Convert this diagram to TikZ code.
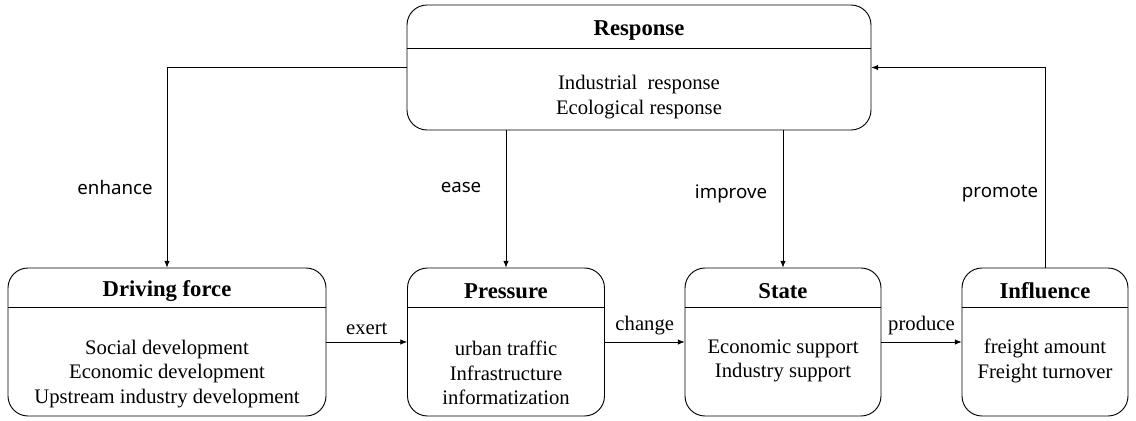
\documentclass[tikz,border=0pt]{standalone}
\usepackage{fontspec}
\setmainfont{Liberation Serif}
\newfontfamily\linkfont{Noto Sans}
\usetikzlibrary{arrows.meta}
\tikzset{
    stagebox/.style={draw, rounded corners=15pt, inner sep=0pt, line width=0.7pt, minimum height=#1},
    stagetitle/.style={font=\fontsize{17}{20}\selectfont\bfseries},
    stagebody/.style={align=center, font=\fontsize{15.5}{18.5}\selectfont},
    link/.style={-{Latex[length=5pt,width=4pt]}, line width=0.5pt},
    linklabel/.style={font=\linkfont\fontsize{14}{16}\selectfont},
    arclabel/.style={font=\fontsize{15.5}{18}\selectfont, inner sep=5pt}
}
\begin{document}
\begin{tikzpicture}[x=0.75pt, y=-0.75pt]
    \useasboundingbox (0,0) rectangle (1136,421);
    % boxes
    \node [stagebox=93.75pt, minimum width=348pt] (resp) at (639,67.5) {};
    \node [stagebox=111pt, minimum width=238.5pt] (drive) at (167,342) {};
    \node [stagebox=111pt, minimum width=147.75pt] (press) at (506,342) {};
    \node [stagebox=111pt, minimum width=147pt] (state) at (783,342) {};
    \node [stagebox=111pt, minimum width=124.5pt] (infl) at (1045,342) {};
    % title rules
    \draw [line width=0.5pt] (resp.west |- 0,48) -- (resp.east |- 0,48);
    \foreach \b in {drive,press,state,infl}
        \draw [line width=0.5pt] (\b.west |- 0,307) -- (\b.east |- 0,307);
    % titles
    \node [stagetitle] (resptitle) at (639,30) {Response};
    \node [stagetitle] (drivetitle) at (167,291) {Driving force};
    \node [stagetitle] (presstitle) at (506,291) {Pressure};
    \node [stagetitle] (statetitle) at (783,291) {State};
    \node [stagetitle] (infltitle) at (1045,291) {Influence};
    % contents
    \node [stagebody] (respbody) at (639,97) {Industrial\ \ response\\Ecological response};
    \node [stagebody] (drivebody) at (167,374) {Social development\\Economic development\\Upstream industry development};
    \node [stagebody] (pressbody) at (506,373) {urban traffic\\Infrastructure\\informatization};
    \node [stagebody] (statebody) at (783,361) {Economic support\\Industry support};
    \node [stagebody] (inflbody) at (1045,361) {freight amount\\Freight turnover};
    % connectors
    \draw [link] (resp.west) -| (drive.north);
    \draw [link] (resp.south -| press.north) -- (press.north);
    \draw [link] (resp.south -| state.north) -- (state.north);
    \draw [link] (infl.north) |- (resp.east);
    \draw [link] (drive.east) -- (press.west) node [arclabel, midway, above] (exert) {exert};
    \draw [link] (press.east) -- (state.west) node [arclabel, midway, above] (change) {change};
    \draw [link] (state.east) -- (infl.west) node [arclabel, midway, above] (produce) {produce};
    \node [linklabel] (enhance) at (115,187) {enhance};
    \node [linklabel] (ease) at (461,187) {ease};
    \node [linklabel] (improve) at (731,194) {improve};
    \node [linklabel] (promote) at (1000,194) {promote};
\end{tikzpicture}
\end{document}
